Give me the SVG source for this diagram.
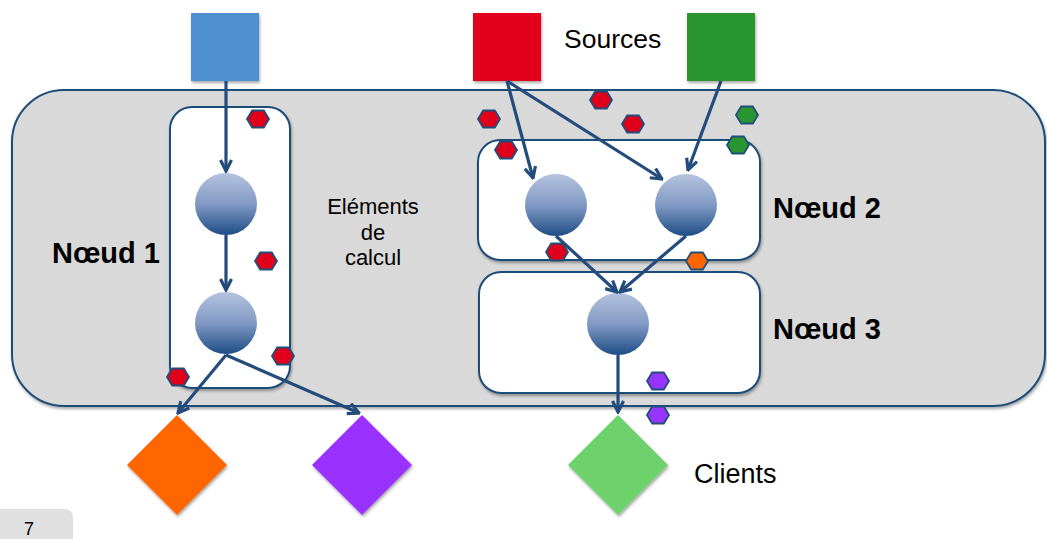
<svg xmlns="http://www.w3.org/2000/svg" width="1047" height="539" viewBox="0 0 1047 539">
<defs>
<linearGradient id="sph" x1="0" y1="0" x2="0" y2="1">
<stop offset="0" stop-color="#B5C3DF"/>
<stop offset="0.5" stop-color="#819AC4"/>
<stop offset="1" stop-color="#1E4C86"/>
</linearGradient>
<marker id="arr" viewBox="0 0 14 14" refX="12.5" refY="7" markerWidth="14" markerHeight="14" markerUnits="userSpaceOnUse" orient="auto">
<path d="M1.5,1.5 L12.5,7 L1.5,12.5" fill="none" stroke="#234C7C" stroke-width="3.2" stroke-linejoin="miter"/>
</marker>
<polygon id="hex" points="-11,0 -5.8,-8.5 5.8,-8.5 11,0 5.8,8.5 -5.8,8.5"/>
<filter id="sh" x="-10%" y="-10%" width="120%" height="120%">
<feGaussianBlur in="SourceAlpha" stdDeviation="1.5"/>
<feOffset dx="1" dy="2" result="b"/>
<feComponentTransfer><feFuncA type="linear" slope="0.35"/></feComponentTransfer>
<feMerge><feMergeNode/><feMergeNode in="SourceGraphic"/></feMerge>
</filter>
</defs>
<style>
.box{fill:#fff;stroke:#1F4E79;stroke-width:2}
.cl{fill:#D9D9D9;stroke:#1F4E79;stroke-width:2}
.sph{fill:url(#sph)}
.ln{fill:none;stroke:#234C7C;stroke-width:3.2;marker-end:url(#arr)}
.hr{fill:#E0001B;stroke:#1F4E79;stroke-width:1.8}
.hg{fill:#2A9632;stroke:#1F4E79;stroke-width:1.8}
.ho{fill:#FF6600;stroke:#1F4E79;stroke-width:1.8}
.hp{fill:#9933FF;stroke:#1F4E79;stroke-width:1.8}
.t{font-family:"Liberation Sans",Arial,sans-serif;fill:#000}
.b{font-weight:bold;font-size:29px}
</style>
<rect x="0" y="0" width="1047" height="539" fill="#fff"/>
<g id="page">
<rect x="-10" y="509" width="83" height="45" rx="8" fill="#E0E0E0"/>
<text class="t" x="29" y="535" font-size="18" text-anchor="middle" fill="#333">7</text>
</g>
<g id="cluster">
<rect class="cl" x="12" y="90" width="1033" height="316" rx="52" filter="url(#sh)"/>
</g>
<g id="node1">
<rect class="box" x="170" y="107" width="120" height="281" rx="22" filter="url(#sh)"/>
<text class="t b" x="106" y="263" text-anchor="middle">Nœud 1</text>
</g>
<g id="node2">
<rect class="box" x="478" y="140" width="282" height="120" rx="22" filter="url(#sh)"/>
<text class="t b" x="773" y="218">Nœud 2</text>
</g>
<g id="node3">
<rect class="box" x="479" y="272" width="281" height="121" rx="22" filter="url(#sh)"/>
<text class="t b" x="773" y="339">Nœud 3</text>
</g>
<g id="label-elements">
<text class="t" font-size="22" text-anchor="middle"><tspan x="373" y="214">Eléments</tspan><tspan x="373" y="239.5">de</tspan><tspan x="373" y="265">calcul</tspan></text>
</g>
<g id="sources">
<rect x="191" y="13" width="68" height="68" fill="#4F90D2" filter="url(#sh)"/>
<rect x="473" y="13" width="68" height="68" fill="#E2001A" filter="url(#sh)"/>
<rect x="687" y="13" width="68" height="68" fill="#2C9632" filter="url(#sh)"/>
<text class="t" x="564" y="48" font-size="26.5">Sources</text>
</g>
<g id="clients">
<polygon points="177,415 227,465 177,515 127,465" fill="#FF6600" filter="url(#sh)"/>
<polygon points="362,415 412,465 362,515 312,465" fill="#9933FF" filter="url(#sh)"/>
<polygon points="618,415 668,465 618,515 568,465" fill="#6DD26C" filter="url(#sh)"/>
<text class="t" x="694" y="483" font-size="27">Clients</text>
</g>
<g id="elements">
<circle class="sph" cx="226" cy="204" r="31"/>
<circle class="sph" cx="226" cy="323" r="31"/>
<circle class="sph" cx="556" cy="205" r="31"/>
<circle class="sph" cx="686" cy="205" r="31"/>
<circle class="sph" cx="618" cy="324" r="31"/>
</g>
<g id="connectors">
<line class="ln" x1="226" y1="81" x2="226" y2="171"/>
<line class="ln" x1="226" y1="235" x2="226" y2="290"/>
<line class="ln" x1="226" y1="355" x2="178" y2="413"/>
<line class="ln" x1="226" y1="355" x2="359" y2="413"/>
<line class="ln" x1="507" y1="81" x2="533" y2="178"/>
<line class="ln" x1="507" y1="81" x2="662" y2="179"/>
<line class="ln" x1="721" y1="81" x2="688" y2="170"/>
<line class="ln" x1="556" y1="236" x2="617" y2="292"/>
<line class="ln" x1="686" y1="236" x2="620" y2="292"/>
<line class="ln" x1="618" y1="355" x2="618" y2="412"/>
</g>
<g id="messages">
<use href="#hex" class="hr" x="258" y="119"/>
<use href="#hex" class="hr" x="266" y="261"/>
<use href="#hex" class="hr" x="283" y="356"/>
<use href="#hex" class="hr" x="178" y="377"/>
<use href="#hex" class="hr" x="489" y="119"/>
<use href="#hex" class="hr" x="506" y="150"/>
<use href="#hex" class="hr" x="601" y="100"/>
<use href="#hex" class="hr" x="633" y="124"/>
<use href="#hex" class="hr" x="557" y="252"/>
<use href="#hex" class="hg" x="747" y="115"/>
<use href="#hex" class="hg" x="738" y="145"/>
<use href="#hex" class="ho" x="697" y="261"/>
<use href="#hex" class="hp" x="658" y="381"/>
<use href="#hex" class="hp" x="658" y="415"/>
</g>
</svg>
